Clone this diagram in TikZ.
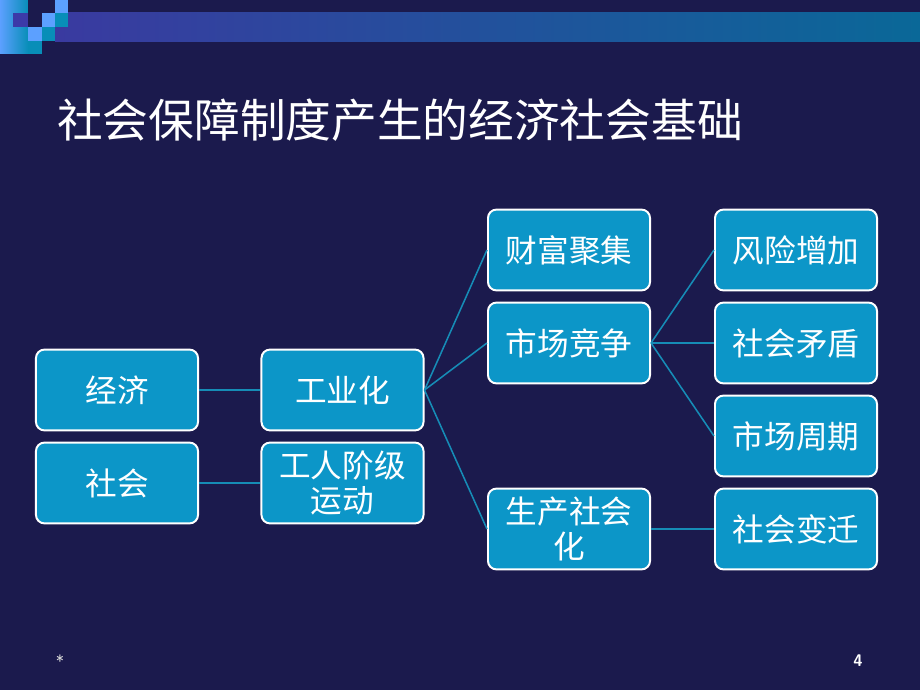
\documentclass[tikz,border=0pt]{standalone}
\usepackage{fontspec}
\usepackage{tikz}
\newfontfamily\cjk{Noto Sans CJK SC}
\definecolor{slidebg}{RGB}{27,26,77}
\definecolor{boxblue}{RGB}{12,150,200}
\definecolor{linkblue}{RGB}{22,140,182}
\definecolor{bandleft}{RGB}{58,58,160}
\definecolor{bandright}{RGB}{10,104,152}
\definecolor{sqlight}{RGB}{92,160,255}
\definecolor{sqteal}{RGB}{8,142,184}
\definecolor{sqpurple}{RGB}{60,58,168}
\tikzset{
  topic/.style={draw=white,line width=1.4pt,rounded corners=6bp,fill=boxblue,
    text=white,align=center,minimum width=4.05cm,minimum height=2.02cm,
    inner sep=0pt,font=\cjk\fontsize{22.5}{25}\selectfont},
  link/.style={linkblue,line width=1.1pt}
}
\begin{document}
\begin{tikzpicture}[x=0.025cm,y=-0.025cm]

% background and header band:
\fill[slidebg] (0,0) rectangle (920,690);
\useasboundingbox (0,0) rectangle (920,690);
\shade[left color=bandleft,right color=bandright] (55,13) rectangle (920,42);
\shade[left color=sqlight,middle color=sqlight,right color=sqteal] (0,0) rectangle (28,54);
\fill[slidebg] (28,0) rectangle (55,13);
\fill[slidebg] (28,13) rectangle (42,27);
\fill[sqlight] (55,0) rectangle (68,13);
\fill[sqpurple] (13,13) rectangle (28,27);
\fill[sqlight] (42,13) rectangle (55,27);
\fill[sqteal] (55,13) rectangle (68,27);
\fill[sqlight] (28,27) rectangle (42,41);
\fill[sqteal] (42,27) rectangle (55,41);
\fill[sqteal] (28,41) rectangle (42,54);

% title:
\path (57,120) node[text=white,anchor=west,inner sep=0pt,font=\cjk\fontsize{32.5}{36}\selectfont] (title) {社会保障制度产生的经济社会基础};

% boxes:
\path (117,390) node[topic] (econ) {经济};
\path (117,483) node[topic] (soc) {社会};
\path (342.5,390) node[topic] (ind) {工业化};
\path (342.5,483) node[topic] (labor) {工人阶级\\运动};
\path (569,250) node[topic] (wealth) {财富聚集};
\path (569,343) node[topic] (market) {市场竞争};
\path (569,529) node[topic] (prod) {生产社会\\化};
\path (796,250) node[topic] (risk) {风险增加};
\path (796,343) node[topic] (conflict) {社会矛盾};
\path (796,436) node[topic] (cycle) {市场周期};
\path (796,529) node[topic] (change) {社会变迁};

% connectors:
\draw[link] (econ.east) -- (ind.west);
\draw[link] (soc.east) -- (labor.west);
\draw[link] (ind.east) -- (wealth.west);
\draw[link] (ind.east) -- (market.west);
\draw[link] (ind.east) -- (prod.west);
\draw[link] (market.east) -- (risk.west);
\draw[link] (market.east) -- (conflict.west);
\draw[link] (market.east) -- (cycle.west);
\draw[link] (prod.east) -- (change.west);

% footer:
\path (60,661) node[text=black!15,font=\sffamily\large] (star) {*};
\path (858,661) node[text=white,font=\sffamily\bfseries\large] (pagenum) {4};

\end{tikzpicture}
\end{document}
